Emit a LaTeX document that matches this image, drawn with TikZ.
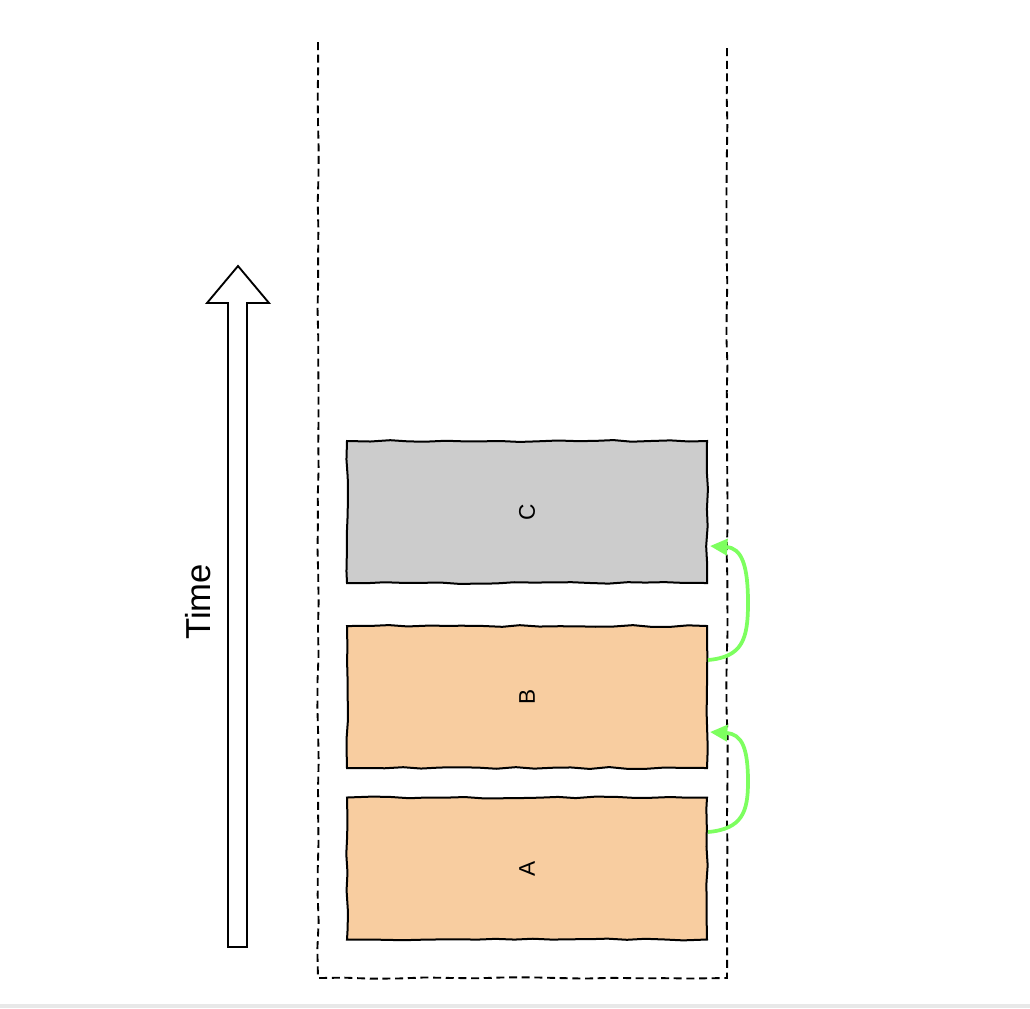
\documentclass[tikz,border=0pt]{standalone}
\usepackage{fontspec}
\setmainfont{Liberation Sans}
\usetikzlibrary{arrows.meta,decorations.pathmorphing,calc}
\definecolor{boxorange}{RGB}{248,205,160}
\definecolor{boxgray}{RGB}{204,204,204}
\definecolor{arrowgreen}{RGB}{125,255,95}
\begin{document}
\begin{tikzpicture}[x=0.75pt,y=-0.75pt,
 sketchbox/.style={draw=black, line width=1.5pt, minimum width=270pt, minimum height=106.5pt, inner sep=0pt, decorate, decoration={random steps,segment length=14pt,amplitude=0.7pt}, font=\fontsize{17}{20}\selectfont},
 container/.style={draw=black, line width=1.4pt, dash pattern=on 6pt off 3.5pt, decorate, decoration={random steps,segment length=20pt,amplitude=0.5pt}},
 flow/.style={draw=arrowgreen, line width=2.8pt, -{Triangle[length=13pt,width=12pt]}},
 timearrow/.style={draw=black, line width=1.4pt, fill=white}
]
\useasboundingbox (0,0) rectangle (1030,1008);
\fill[gray!18] (0,1004) rectangle (1030,1008);
\pgfmathsetseed{7}
\draw[container] (318,42) -- (318,978) -- (727,978) -- (727,44);
\draw[timearrow] (228,947) -- (228,303) -- (207,303) -- (238,266) -- (269,303) -- (247,303) -- (247,947) -- cycle;
\node[rotate=90, font=\fontsize{26}{30}\selectfont] (time) at (198,602) {Time};
\node[sketchbox, fill=boxgray] (C) at (527,512) {\rotatebox{90}{C}};
\node[sketchbox, fill=boxorange] (B) at (527,697) {\rotatebox{90}{B}};
\node[sketchbox, fill=boxorange] (A) at (527,868.5) {\rotatebox{90}{A}};
\coordinate (b1) at ($(B.east)+(0,-37)$);
\coordinate (c1) at ($(C.east)+(2,34)$);
\coordinate (a1) at ($(A.east)+(0,-36.5)$);
\coordinate (b2) at ($(B.east)+(2,35)$);
\draw[flow] (b1) .. controls (742,657) and (748,640) .. (748,603) .. controls (748,566) and (742,548) .. (c1);
\draw[flow] (a1) .. controls (742,829) and (748,812) .. (748,782) .. controls (748,748) and (742,734) .. (b2);
\end{tikzpicture}
\end{document}
